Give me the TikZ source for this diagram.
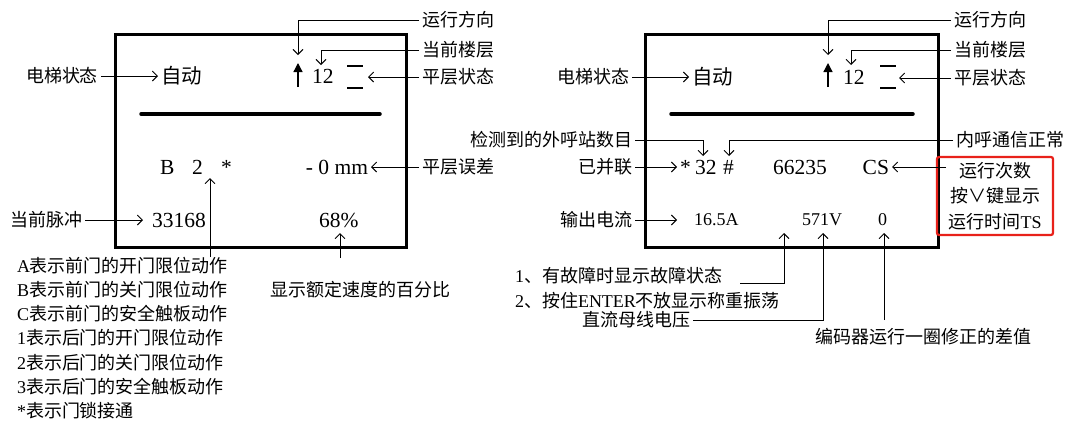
\documentclass[tikz,border=0pt]{standalone}
\usepackage{fontspec}
\setmainfont{Liberation Serif}
\newfontfamily\cjk{Noto Sans CJK SC}
\usetikzlibrary{arrows.meta}
\definecolor{redbox}{RGB}{232,33,26}
\newcommand{\lat}[1]{{\rmfamily #1}}
\begin{document}
\begin{tikzpicture}[x=1pt,y=-1pt,
  lab/.style={inner sep=0pt, outer sep=3pt, font=\cjk\fontsize{18}{20}\selectfont},
  dispc/.style={inner sep=0pt, outer sep=3pt, font=\cjk\fontsize{20.5}{22}\selectfont},
  disp/.style={inner sep=0pt, outer sep=3pt, font=\rmfamily\fontsize{21.5}{24}\selectfont},
  sdisp/.style={inner sep=0pt, outer sep=3pt, font=\rmfamily\fontsize{18}{20}\selectfont},
  arr/.style={line width=0.9pt, -{Straight Barb[length=5pt,width=10pt]}},
  uparr/.style={line width=1.3pt, -{Triangle[length=9pt,width=9pt]}},
  panel/.style={line width=3pt},
  bar/.style={line width=3.5pt, line cap=round},
  flr/.style={line width=1.2pt}
]
\useasboundingbox (0,0) rectangle (1069,424);

% ================= LEFT PANEL =================
\draw[panel] (115,34) rectangle (406,247);
\draw[bar] (141,114) -- (380,114);

\node[lab, anchor=east] (dtzL) at (101,76) {电梯状态};
\node[dispc, anchor=west] (zdL) at (158,76) {自动};
\draw[arr] (dtzL.east) -- (zdL.west);

\draw[uparr] (298,87) -- (298,63);
\node[disp, anchor=west] (flL) at (309,76) {12};
\draw[flr] (347,66) -- (363,66);
\draw[flr] (347,88) -- (363,88);

\node[lab, anchor=west] (yxL) at (419,20) {运行方向};
\coordinate (yxLend) at (298,55);
\draw[arr] (yxL.west) -| (yxLend);
\node[lab, anchor=west] (dqL) at (419,50) {当前楼层};
\coordinate (dqLend) at (321,65);
\draw[arr] (dqL.west) -| (dqLend);
\node[lab, anchor=west] (pcL) at (419,77) {平层状态};
\coordinate (pcLend) at (368,77);
\draw[arr] (pcL.west) -- (pcLend);

\node[disp, anchor=west] (bL) at (157,167) {B};
\node[disp, anchor=west] (twoL) at (189,167) {2};
\node[disp, anchor=west] (starL) at (218,167) {*};
\node[disp, anchor=east] (mmL) at (371,167) {- 0 mm};
\node[lab, anchor=west] (pwL) at (419,167) {平层误差};
\draw[arr] (pwL.west) -- (mmL.east);
\coordinate (bsL1) at (210,257);
\coordinate (bsL2) at (210,178);
\draw[arr] (bsL1) -- (bsL2);

\node[lab, anchor=east] (mcL) at (85,220) {当前脉冲};
\node[disp, anchor=west] (n33L) at (149,220) {33168};
\draw[arr, shorten >=6pt] (mcL.east) -- (n33L.west);
\node[disp, anchor=west] (pctL) at (316,220) {68\%};
\coordinate (spL1) at (340,258);
\coordinate (spL2) at (340,233);
\draw[arr] (spL1) -- (spL2);

\node[lab, anchor=west] (spdL) at (267,290) {显示额定速度的百分比};
\node[lab, anchor=west, align=left, font=\cjk\fontsize{18}{24.2}\selectfont] (legend) at (14,338)
  {\lat{A}表示前门的开门限位动作\\
   \lat{B}表示前门的关门限位动作\\
   \lat{C}表示前门的安全触板动作\\
   \lat{1}表示后门的开门限位动作\\
   \lat{2}表示后门的关门限位动作\\
   \lat{3}表示后门的安全触板动作\\
   \lat{*}表示门锁接通};

% ================= RIGHT PANEL =================
\draw[panel] (645,34) rectangle (938,247);
\draw[bar] (671,114) -- (913,114);

\node[lab, anchor=east] (dtzR) at (632,77) {电梯状态};
\node[dispc, anchor=west] (zdR) at (689,77) {自动};
\draw[arr] (dtzR.east) -- (zdR.west);

\draw[uparr] (828,87) -- (828,63);
\node[disp, anchor=west] (flR) at (840,77) {12};
\draw[flr] (880,66) -- (896,66);
\draw[flr] (880,88) -- (896,88);

\node[lab, anchor=west] (yxR) at (951,20) {运行方向};
\coordinate (yxRend) at (828,55);
\draw[arr] (yxR.west) -| (yxRend);
\node[lab, anchor=west] (dqR) at (951,50) {当前楼层};
\coordinate (dqRend) at (851,65);
\draw[arr] (dqR.west) -| (dqRend);
\node[lab, anchor=west] (pcR) at (951,78) {平层状态};
\coordinate (pcRend) at (899,78);
\draw[arr] (pcR.west) -- (pcRend);

\node[lab, anchor=east] (jcR) at (635,140) {检测到的外呼站数目};
\coordinate (jcRend) at (703,156);
\draw[arr] (jcR.east) -| (jcRend);
\node[lab, anchor=west] (nhR) at (953,140) {内呼通信正常};
\coordinate (nhRend) at (729,156);
\draw[arr] (nhR.west) -| (nhRend);

\node[lab, anchor=east] (blR) at (635,167) {已并联};
\node[disp, anchor=west] (starR) at (677,167) {*};
\node[disp, anchor=west] (n32R) at (692,167) {32};
\node[disp, anchor=west] (hashR) at (720,167) {\#};
\node[disp, anchor=west] (n66R) at (770,167) {66235};
\node[disp, anchor=east] (csR) at (892,167) {CS};
\draw[arr] (blR.east) -- (starR.west);

\node[draw=redbox, line width=2.2pt, rounded corners=2pt, align=center,
      minimum width=116pt, minimum height=78pt, inner sep=0pt,
      font=\cjk\fontsize{18}{25.5}\selectfont] (redR) at (995,196)
  {运行次数\\按∨键显示\\运行时间\lat{TS}};
\coordinate (csfrom) at (946,167);
\draw[arr] (csfrom) -- (csR.east);

\node[lab, anchor=east] (scR) at (635,220) {输出电流};
\node[sdisp, anchor=west] (iR) at (691,220) {16.5A};
\draw[arr, shorten >=14pt] (scR.east) -- (iR.west);
\node[sdisp, anchor=west] (vR) at (799,220) {571V};
\node[sdisp, anchor=west] (zR) at (875,220) {0};

\node[lab, anchor=west] (f1R) at (512,276) {\lat{1}、有故障时显示故障状态};
\node[lab, anchor=west] (f2R) at (512,301) {\lat{2}、按住\lat{ENTER}不放显示称重振荡};
\coordinate (f1line) at (740,283);
\coordinate (a1top) at (784,233);
\draw[arr] (f1line) -| (a1top);

\node[lab, anchor=east] (dcR) at (693,320) {直流母线电压};
\coordinate (a2top) at (823,233);
\draw[arr] (dcR.east) -| (a2top);

\node[lab, anchor=west] (bmR) at (812,337) {编码器运行一圈修正的差值};
\coordinate (a3bot) at (884,320);
\coordinate (a3top) at (884,233);
\draw[arr] (a3bot) -- (a3top);
\end{tikzpicture}
\end{document}
